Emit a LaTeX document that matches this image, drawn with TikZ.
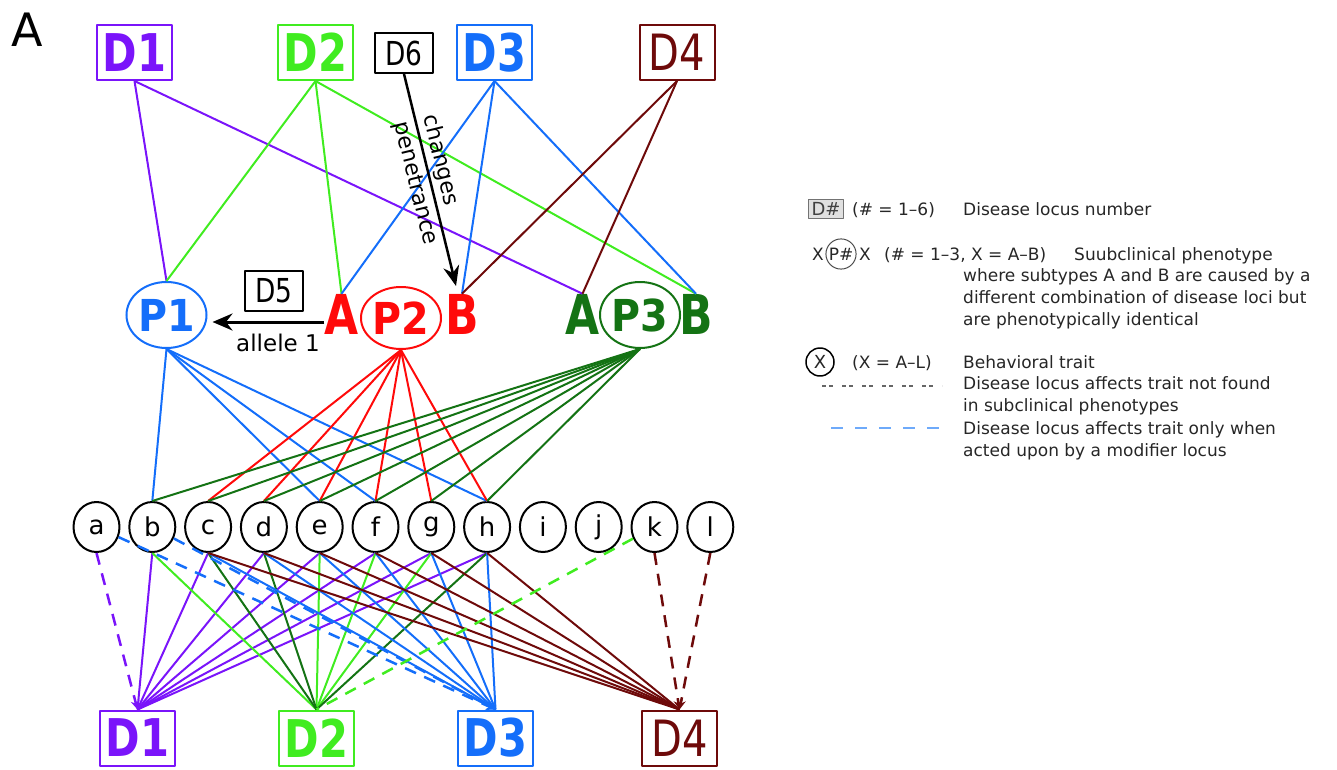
\documentclass[tikz,border=0pt]{standalone}
\usepackage{fontspec}
\setmainfont{DejaVu Sans}
\newfontfamily\labfont{DejaVu Sans}[FakeStretch=0.8]
\newfontfamily\phfont{DejaVu Sans}[FakeStretch=0.9]
\usetikzlibrary{shapes.geometric,arrows.meta}
\definecolor{locI}{RGB}{122,20,250}
\definecolor{locII}{RGB}{64,236,32}
\definecolor{locIII}{RGB}{20,110,250}
\definecolor{locIV}{RGB}{110,10,10}
\definecolor{phred}{RGB}{255,10,10}
\definecolor{phgreen}{RGB}{20,115,20}
\definecolor{keyblue}{RGB}{110,170,250}
\newcommand{\fsz}[1]{\fontsize{#1}{#1}\selectfont}
\begin{document}
\begin{tikzpicture}[x=1pt,y=-1pt,>=Stealth, line join=round,
  locus/.style={draw,line width=2pt,minimum width=75pt,minimum height=55pt,inner sep=0pt,font=\labfont\bfseries\fsz{52}},
  modbox/.style={draw,line width=2pt,minimum width=58pt,minimum height=40pt,inner sep=0pt,font=\labfont\fsz{33}},
  pheno/.style={ellipse,draw,line width=2pt,minimum width=76pt,minimum height=66pt,inner sep=0pt,font=\phfont\bfseries\fsz{44}},
  sub/.style={inner sep=0pt,font=\labfont\bfseries\fsz{55}},
  trait/.style={ellipse,draw,line width=2pt,minimum width=46pt,minimum height=50pt,inner sep=0pt,font=\fsz{26}},
  link/.style={line width=2pt},
  hint/.style={line width=2.5pt,dash pattern=on 12pt off 9pt,-{Stealth[length=9pt,width=9pt]}},
  key/.style={inner sep=0pt,font=\fsz{17},text=black!85}]
\useasboundingbox (0,0) rectangle (1337,770);
\node[font=\fsz{46}] (panel) at (27,30) {A};
% disease loci, top
\node[locus,locI] (tD1) at (134.5,52.5) {D1};
\node[locus,locII] (tD2) at (315.5,52.5) {D2};
\node[locus,locIII] (tD3) at (494.5,52.5) {D3};
\node[locus,locIV,font=\labfont\fsz{50}] (tD4) at (677,52.5) {D4};
\node[modbox] (D6) at (404,53) {D6};
% subclinical phenotypes
\node[pheno,locIII] (P1) at (166.5,315) {P1};
\node[pheno,phred,minimum width=72pt,minimum height=62pt] (P2) at (401,318) {P2};
\node[sub,phred] (A2) at (341.5,314) {A};
\node[sub,phred] (B2) at (462,314) {B};
\node[pheno,phgreen] (P3) at (640,315) {P3};
\node[sub,phgreen] (A3) at (582.5,314) {A};
\node[sub,phgreen] (B3) at (696,314) {B};
\node[modbox] (D5) at (274,291) {D5};
\node[font=\fsz{23}] (allele) at (278,343) {allele 1};
\coordinate (pen) at (456,286);
% behavioral traits
\foreach \t [count=\i from 0] in {a,...,l}
  \node[trait] (\t) at (96.5+55.8*\i,527) {\t};
% disease loci, bottom
\node[locus,locI] (bD1) at (137.5,738) {D1};
\node[locus,locII] (bD2) at (316.5,738) {D2};
\node[locus,locIII] (bD3) at (495.5,738) {D3};
\node[locus,locIV,font=\labfont\fsz{50}] (bD4) at (679.5,738) {D4};
% loci -> phenotypes
\foreach \e in {P1,A3} \draw[link,locI] (tD1.south) -- (\e.north);
\foreach \e in {P1,A2,B3} \draw[link,locII] (tD2.south) -- (\e.north);
\foreach \e in {A2,B2,B3} \draw[link,locIII] (tD3.south) -- (\e.north);
\foreach \e in {B2,A3} \draw[link,locIV] (tD4.south) -- (\e.north);
\draw[line width=2.5pt,-{Stealth[length=20pt,width=16pt]}] (D6.south) -- (pen)
  node[midway,rotate=-76.3,align=left,font=\fontsize{22}{30}\selectfont] (penlabel) {changes\\penetrance};
\draw[line width=3pt,-{Stealth[length=20pt,width=17pt]}] ([yshift=-8pt]A2.west) -- ([yshift=-7pt,xshift=5pt]P1.east);
% phenotypes -> traits
\foreach \t in {b,e,f,h} \draw[link,locIII] (P1.south) -- (\t.north);
\foreach \t in {c,...,h} \draw[link,phred] (P2.south) -- (\t.north);
\foreach \t in {b,...,h} \draw[link,phgreen] (P3.south) -- (\t.north);
% traits -> loci
\foreach \t in {b,...,h} \draw[link,locI] (\t.south) -- (bD1.north);
\foreach \t in {b,e,f,g} \draw[link,locII] (\t.south) -- (bD2.north);
\foreach \t in {c,d,h} \draw[link,phgreen] (\t.south) -- (bD2.north);
\foreach \t in {c,...,h} \draw[link,locIII] (\t.south) -- (bD3.north);
\foreach \t in {c,...,h} \draw[link,locIV] (\t.south) -- (bD4.north);
\draw[hint,locI] (a.south) -- (bD1.north);
\foreach \t in {a,b} \draw[hint,locIII] (\t) -- (bD3.north);
\draw[hint,locII,-] (k) -- (bD2.north);
\foreach \t in {k,l} \draw[hint,locIV] (\t.south) -- (bD4.north);
% key
\node[draw=black!55,fill=black!12,line width=1.8pt,inner sep=3pt,font=\fsz{18},text=black!75] (keyD) at (826,209) {D\#};
\node[key,anchor=base west] (keyDr) at (852,215) {(\# = 1--6)};
\node[key,anchor=base west] (keyDt) at (963,215) {Disease locus number};
\node[key,anchor=base] (keyXa) at (818,260) {X};
\node[key,circle,draw=black!70,line width=1pt,inner sep=1pt] (keyP) at (841,254) {P\#};
\node[key,anchor=base] (keyXb) at (865,260) {X};
\node[key,anchor=base west] (keyPr) at (884,260) {(\# = 1--3, X = A--B)};
\node[key,anchor=base west] (keyPt) at (1074,260) {Suubclinical phenotype};
\node[key,anchor=north west,align=left,font=\fontsize{17}{22}\selectfont] (keyPm) at (963,268)
  {where subtypes A and B are caused by a\\different combination of disease loci but\\are phenotypically identical};
\node[key,circle,draw=black,line width=1.5pt,minimum size=28pt,font=\fsz{18}] (keyT) at (820,362) {X};
\node[key,anchor=base west] (keyTr) at (852,368) {(X = A--L)};
\node[key,anchor=base west] (keyTt) at (963,368) {Behavioral trait};
\draw[black!60,line width=1.3pt,dash pattern=on 4pt off 3pt on 4pt off 9pt] (822,386) -- (942,386);
\node[key,anchor=north west,align=left,font=\fontsize{17}{22}\selectfont] (keyNf) at (963,376)
  {Disease locus affects trait not found\\in subclinical phenotypes};
\draw[keyblue,line width=2pt,dash pattern=on 12pt off 12pt] (831,428) -- (942,428);
\node[key,anchor=north west,align=left,font=\fontsize{17}{22}\selectfont] (keyMod) at (963,421)
  {Disease locus affects trait only when\\acted upon by a modifier locus};
\end{tikzpicture}
\end{document}
